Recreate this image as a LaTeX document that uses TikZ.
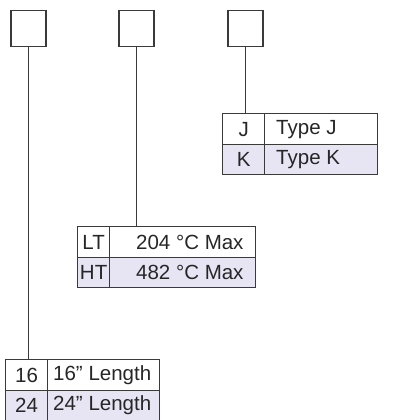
\documentclass[tikz,border=0pt]{standalone}
\usepackage{fontspec}
\setmainfont{Liberation Sans}
\usetikzlibrary{positioning}
\definecolor{linegray}{HTML}{3A3A3A}
\definecolor{rowtint}{HTML}{E7E5F3}
\begin{document}
\begin{tikzpicture}[x=1pt, y=-1pt, % 1 unité = 1 pixel, y vers le bas
  slot/.style={draw=linegray, line width=1.8pt, minimum width=35pt, minimum height=36pt, inner sep=0pt},
  cell/.style={draw=linegray, line width=1.3pt, minimum height=31pt, inner sep=0pt, anchor=north west, text=black!85, font=\fontsize{20.5}{24}\selectfont},
  tinted/.style={cell, fill=rowtint, minimum height=30pt},
  lbl/.style={inner sep=0pt, anchor=west, text=black!85, font=\fontsize{20.5}{24}\selectfont},
  lead/.style={draw=linegray, line width=1.2pt}]
  \useasboundingbox (0,0) rectangle (419,420);

  % Cases du code
  \foreach \i/\x in {1/28.5,2/136.8,3/245.8}
    \node[slot] (box\i) at (\x,28.5) {};

  % Tableau : type de thermocouple
  \node[cell, minimum width=42pt] (jcode) at (222,113) {J};
  \node[cell, minimum width=113pt] (jdesc) at (264,113) {};
  \node[tinted, minimum width=42pt] (kcode) at (222,144) {K};
  \node[tinted, minimum width=113pt] (kdesc) at (264,144) {};
  \node[lbl] (jlab) at ([xshift=12pt]jdesc.west) {Type J};
  \node[lbl] (klab) at ([xshift=12pt]kdesc.west) {Type K};

  % Tableau : température
  \node[cell, minimum width=32pt] (ltcode) at (77,226) {LT};
  \node[cell, minimum width=146pt] (ltdesc) at (109,226) {};
  \node[tinted, minimum width=32pt] (htcode) at (77,257) {HT};
  \node[tinted, minimum width=146pt] (htdesc) at (109,257) {};
  \node[lbl] (ltlab) at ([xshift=27pt]ltdesc.west) {204 °C Max};
  \node[lbl] (htlab) at ([xshift=27pt]htdesc.west) {482 °C Max};

  % Tableau : longueur
  \node[cell, minimum width=42pt] (scode) at (5,359) {16};
  \node[cell, minimum width=112pt] (sdesc) at (47,359) {};
  \node[tinted, minimum width=42pt, minimum height=29.5pt] (lcode) at (5,390) {24};
  \node[tinted, minimum width=112pt, minimum height=29.5pt] (ldesc) at (47,390) {};
  \node[lbl] (slab) at ([xshift=6pt]sdesc.west) {16” Length};
  \node[lbl] (llab) at ([xshift=6pt]ldesc.west) {24” Length};

  % Traits de rappel
  \draw[lead] (box1.south) -- (box1.south |- scode.north);
  \draw[lead] (box2.south) -- (box2.south |- ltdesc.north);
  \draw[lead] (box3.south) -- (box3.south |- jdesc.north);
\end{tikzpicture}
\end{document}
